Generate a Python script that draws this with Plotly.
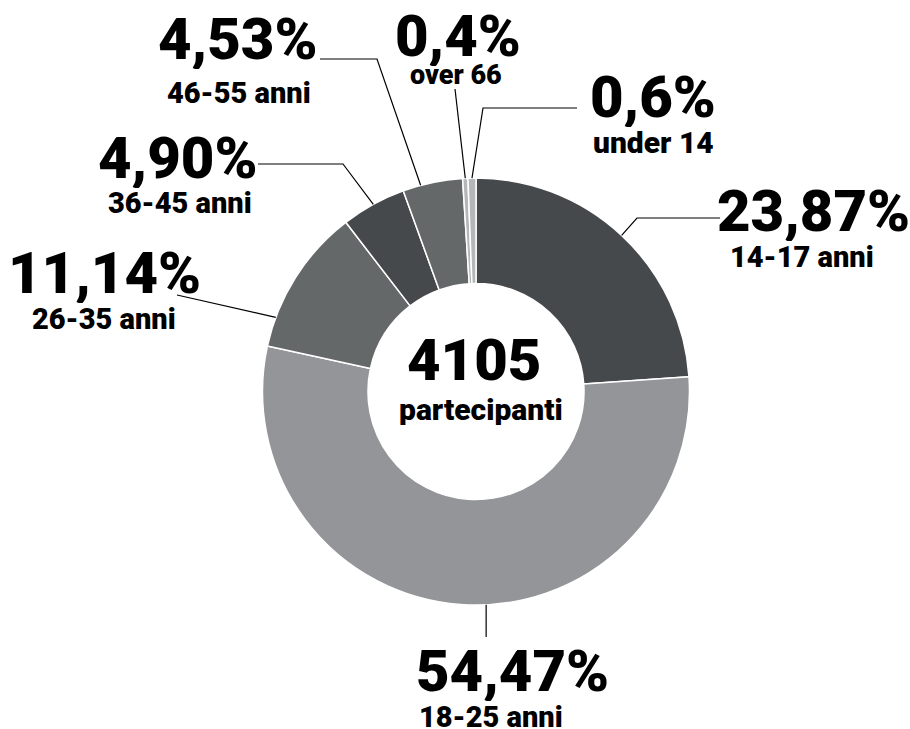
import math
import plotly.graph_objects as go

# ---------------- data (clockwise from 12 o'clock) ----------------
categories = ["14-17 anni", "18-25 anni", "26-35 anni", "36-45 anni",
              "46-55 anni", "over 66", "under 14"]
shares = [23.87, 54.47, 11.14, 4.90, 4.53, 0.4, 0.6]
pct_labels = ["23,87%", "54,47%", "11,14%", "4,90%", "4,53%", "0,4%", "0,6%"]
total_participants = "4105"
center_caption = "partecipanti"

# ---------------- style ----------------
DARK, MID, STEEL, LIGHT = "#46494c", "#939598", "#656869", "#b4b6b8"
colors = [DARK, MID, STEEL, DARK, STEEL, LIGHT, LIGHT]
FONT = "Roboto"
PCT_SIZE = 58

W, H = 910, 729
CX, CY, R = 476.0, 391.5, 213.5
HOLE = 0.506

def to_paper(x, y):
    return x / W, 1 - y / H

# per-label layout: anchor fraction inside the slice, leader path points (px),
# percentage text centre (x, y), sub text centre (x, y), sub font size
label_layout = {
    "14-17 anni": dict(anchor=0.5, path=[(637, 218), (720, 218)],
                       pct=(813, 211), sub=(802, 256.5), sub_size=29),
    "18-25 anni": dict(anchor=0.465, path=[(None, 637)],
                       pct=(512, 670.5), sub=(491, 716.5), sub_size=29),
    "26-35 anni": dict(anchor=0.2, path=[(177, 295)],
                       pct=(104, 273), sub=(104, 318.5), sub_size=29),
    "36-45 anni": dict(anchor=0.5, path=[(343, 164), (258, 164)],
                       pct=(178, 157), sub=(180, 203), sub_size=29),
    "46-55 anni": dict(anchor=0.3, path=[(377, 59), (320, 59)],
                       pct=(237.5, 38.5), sub=(239, 93), sub_size=29),
    "over 66":    dict(anchor=0.5, path=[(455, 89)],
                       pct=(457.5, 35), sub=(456, 75), sub_size=27),
    "under 14":   dict(anchor=0.5, path=[(483, 108), (577, 108)],
                       pct=(653, 96.5), sub=(653, 142), sub_size=30),
}

fig = go.Figure()

x0, y0 = to_paper(CX - R, CY + R)
x1, y1 = to_paper(CX + R, CY - R)
fig.add_trace(go.Pie(
    labels=categories,
    values=shares,
    sort=False,
    direction="clockwise",
    rotation=0,
    hole=HOLE,
    textinfo="none",
    hoverinfo="label+percent",
    marker=dict(colors=colors, line=dict(color="white", width=1.5)),
    domain=dict(x=[x0, x1], y=[y0, y1]),
    showlegend=False,
))

total = sum(shares)
shapes = []
annotations = []


def add_text(text, cx, cy, size, box_h):
    px_, py_ = to_paper(cx, cy)
    annotations.append(dict(text=text, x=px_, y=py_, xref="paper", yref="paper",
                            xanchor="center", yanchor="middle", showarrow=False,
                            height=box_h, valign="middle", borderpad=0,
                            font=dict(family=FONT, size=size, color="black", weight=900)))


cum = 0.0
for cat, val, pct in zip(categories, shares, pct_labels):
    lay = label_layout[cat]
    start = cum / total * 360.0
    span = val / total * 360.0
    ang = math.radians(start + lay["anchor"] * span)
    ax = CX + R * math.sin(ang)
    ay = CY - R * math.cos(ang)
    cum += val

    pts = [(ax, ay)]
    for (px, py) in lay["path"]:
        pts.append((ax if px is None else px, py))
    path = ""
    for i, (px, py) in enumerate(pts):
        qx, qy = to_paper(px, py)
        path += ("M" if i == 0 else " L") + f" {qx:.5f} {qy:.5f}"
    shapes.append(dict(type="path", path=path, xref="paper", yref="paper",
                       line=dict(color="black", width=1.2)))

    add_text(pct, *lay["pct"], PCT_SIZE, round(PCT_SIZE * 1.05))
    add_text(cat, *lay["sub"], lay["sub_size"], round(lay["sub_size"] * 1.05))

add_text(total_participants, 474, 359.5, PCT_SIZE, round(PCT_SIZE * 1.05))
add_text(center_caption, 481, 408.5, 30, 32)

fig.update_layout(
    width=W, height=H,
    margin=dict(l=0, r=0, t=0, b=0),
    paper_bgcolor="white",
    plot_bgcolor="white",
    shapes=shapes,
    annotations=annotations,
)

fig.write_html("out.html", config={"displayModeBar": False},
               post_script="document.body.style.margin='0';document.body.style.overflow='hidden';")
